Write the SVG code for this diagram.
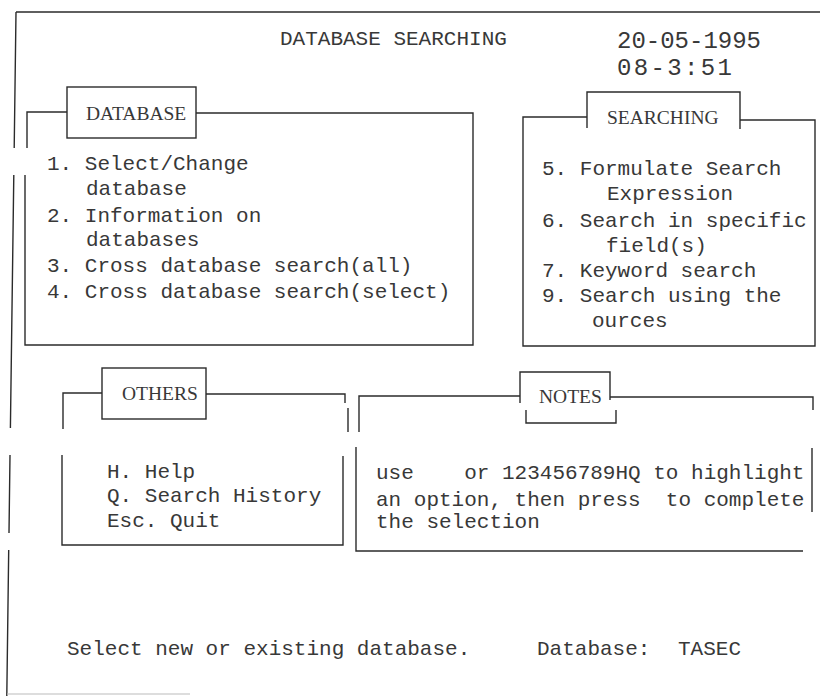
<svg xmlns="http://www.w3.org/2000/svg" width="820" height="696" viewBox="0 0 820 696">
<style>
.ln{fill:none;stroke:#2b2b2b;stroke-width:1.4}
.faint{fill:none;stroke:#bbbbbb;stroke-width:1.2}
text{font-family:"Liberation Mono","Courier New",monospace;font-size:21px;fill:#383838}
.big{font-size:24px}
.tab{font-family:"Liberation Serif","Times New Roman",serif;font-size:19.5px}
</style>
<rect width="820" height="696" fill="#ffffff"/>
<g id="frame">
<path class="ln" d="M16,12 H820 M16,12 L14.2,148 M13.8,175 L10.4,428 M10,455 L9,533 M8.7,550 L6.8,696"/>
<path class="faint" d="M7,694 H190"/>
</g>
<g id="header">
<text x="280" y="45">DATABASE SEARCHING</text>
<text class="big" x="617" y="48">20-05-1995</text>
<text class="big" x="617" y="75" textLength="115" lengthAdjust="spacing">08-3:51</text>
</g>
<g id="database">
<path class="ln" d="M67,112 H27 V148 M25,175 V345 H473 V113 H196"/>
<rect class="ln" x="67" y="87" width="129" height="51"/>
<text class="tab" x="86" y="120">DATABASE</text>
<text x="47" y="170">1. Select/Change</text>
<text x="86" y="195">database</text>
<text x="47" y="222">2. Information on</text>
<text x="86" y="246">databases</text>
<text x="47" y="272">3. Cross database search(all)</text>
<text x="47" y="298">4. Cross database search(select)</text>
</g>
<g id="searching">
<path class="ln" d="M587,117 H523 V346 H815 V120 H740"/>
<path class="ln" d="M587,128 V92 H740 V129"/>
<text class="tab" x="607" y="124">SEARCHING</text>
<text x="542" y="175">5. Formulate Search</text>
<text x="607" y="200">Expression</text>
<text x="542" y="227">6. Search in specific</text>
<text x="606" y="252">field(s)</text>
<text x="542" y="277">7. Keyword search</text>
<text x="542" y="302">9. Search using the</text>
<text x="592" y="327">ources</text>
</g>
<g id="others">
<path class="ln" d="M102,393 H63 V429 M206,394 H345 V403 M348,408 V432"/>
<rect class="ln" x="102" y="368" width="104" height="51"/>
<path class="ln" d="M62,455 V545 H343 V456"/>
<text class="tab" x="122" y="400">OTHERS</text>
<text x="107" y="478">H. Help</text>
<text x="107" y="502">Q. Search History</text>
<text x="107" y="527">Esc. Quit</text>
</g>
<g id="notes">
<path class="ln" d="M520,396 H359 V432"/>
<path class="ln" d="M520,403 V372 H610 V400 M526,410 V423 H616 V410 M610,397 H813 V410"/>
<path class="ln" d="M356,447 V551 H803 M812,448 V512"/>
<text class="tab" x="539" y="403">NOTES</text>
<text x="376" y="479" xml:space="preserve">use    or 123456789HQ to highlight</text>
<text x="376" y="506" xml:space="preserve">an option, then press  to complete</text>
<text x="376" y="528">the selection</text>
</g>
<g id="status">
<text x="67" y="655">Select new or existing database.</text>
<text x="537" y="655">Database:</text>
<text x="678" y="655">TASEC</text>
</g>
</svg>
